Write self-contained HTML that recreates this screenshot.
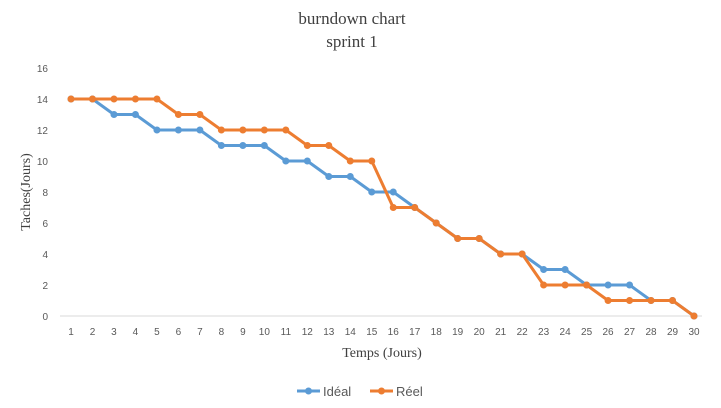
<!DOCTYPE html>
<html><head><meta charset="utf-8">
<style>
html,body{margin:0;padding:0;background:#fff;}
svg{display:block;}
</style></head>
<body>
<svg id="chart" width="721" height="408" xmlns="http://www.w3.org/2000/svg">
  <text x="352" y="24" text-anchor="middle" font-family="Liberation Serif, serif" font-size="17" fill="#404040">burndown chart</text>
  <text x="352" y="47" text-anchor="middle" font-family="Liberation Serif, serif" font-size="17" fill="#404040">sprint 1</text>
  <text x="0" y="0" transform="translate(30,192) rotate(-90)" text-anchor="middle" font-family="Liberation Serif, serif" font-size="14" fill="#404040">Taches(Jours)</text>
  <text x="382" y="357" text-anchor="middle" font-family="Liberation Serif, serif" font-size="14" fill="#404040">Temps (Jours)</text>
  <line x1="60" y1="316" x2="702" y2="316" stroke="#d9d9d9" stroke-width="1"/>
  <g id="yticks"></g>
  <g id="xticks"></g>
  <g id="series"></g>
  <g>
    <g>
      <line x1="297" y1="391" x2="320" y2="391" stroke="#5b9bd5" stroke-width="3"/>
      <circle cx="308.5" cy="391" r="3.5" fill="#5b9bd5"/>
      <text x="323" y="396" font-family="Liberation Sans, sans-serif" font-size="13" fill="#595959">Idéal</text>
    </g>
    <g>
      <line x1="370" y1="391" x2="393" y2="391" stroke="#ed7d31" stroke-width="3"/>
      <circle cx="381.5" cy="391" r="3.5" fill="#ed7d31"/>
      <text x="396" y="396" font-family="Liberation Sans, sans-serif" font-size="13" fill="#595959">Réel</text>
    </g>
  </g>
</svg>
<script>
const days = [1,2,3,4,5,6,7,8,9,10,11,12,13,14,15,16,17,18,19,20,21,22,23,24,25,26,27,28,29,30];
const idealValues = [14,14,13,13,12,12,12,11,11,11,10,10,9,9,8,8,7,6,5,5,4,4,3,3,2,2,2,1,1,0];
const reelValues = [14,14,14,14,14,13,13,12,12,12,12,11,11,10,10,7,7,6,5,5,4,4,2,2,2,1,1,1,1,0];
const yTicks = [0,2,4,6,8,10,12,14,16];

const NS = "http://www.w3.org/2000/svg";
const xMin = 1, xMax = 30, xL = 71, xR = 694;
const yMin = 0, yMax = 16, yB = 316, yT = 68;
function xScale(d){ return xL + (d - xMin) * (xR - xL) / (xMax - xMin); }
function yScale(v){ return yB - (v - yMin) * (yB - yT) / (yMax - yMin); }

const yg = document.getElementById('yticks');
yTicks.forEach(t => {
  const tx = document.createElementNS(NS, 'text');
  tx.setAttribute('x', 48); tx.setAttribute('y', yScale(t) + 4);
  tx.setAttribute('text-anchor', 'end');
  tx.setAttribute('font-family', 'Liberation Sans, sans-serif');
  tx.setAttribute('font-size', '10'); tx.setAttribute('fill', '#595959');
  tx.textContent = t;
  
  
  yg.appendChild(tx);
});
const xg = document.getElementById('xticks');
days.forEach(d => {
  const tx = document.createElementNS(NS, 'text');
  tx.setAttribute('x', xScale(d)); tx.setAttribute('y', 335);
  tx.setAttribute('text-anchor', 'middle');
  tx.setAttribute('font-family', 'Liberation Sans, sans-serif');
  tx.setAttribute('font-size', '10'); tx.setAttribute('fill', '#595959');
  tx.textContent = d;
  
  
  xg.appendChild(tx);
});

const sg = document.getElementById('series');
function drawSeries(vals, color, name){
  const g = document.createElementNS(NS, 'g');
  
  
  const pl = document.createElementNS(NS, 'polyline');
  pl.setAttribute('points', vals.map((v,i) => xScale(days[i]) + ',' + yScale(v)).join(' '));
  pl.setAttribute('fill', 'none'); pl.setAttribute('stroke', color);
  pl.setAttribute('stroke-width', '3'); pl.setAttribute('stroke-linejoin', 'round');
  
  
  g.appendChild(pl);
  vals.forEach((v,i) => {
    const c = document.createElementNS(NS, 'circle');
    c.setAttribute('cx', xScale(days[i])); c.setAttribute('cy', yScale(v));
    c.setAttribute('r', '3.5'); c.setAttribute('fill', color);
    
    
    g.appendChild(c);
  });
  sg.appendChild(g);
}
drawSeries(idealValues, '#5b9bd5', 'series-ideal');
drawSeries(reelValues, '#ed7d31', 'series-reel');
</script>
</body></html>
